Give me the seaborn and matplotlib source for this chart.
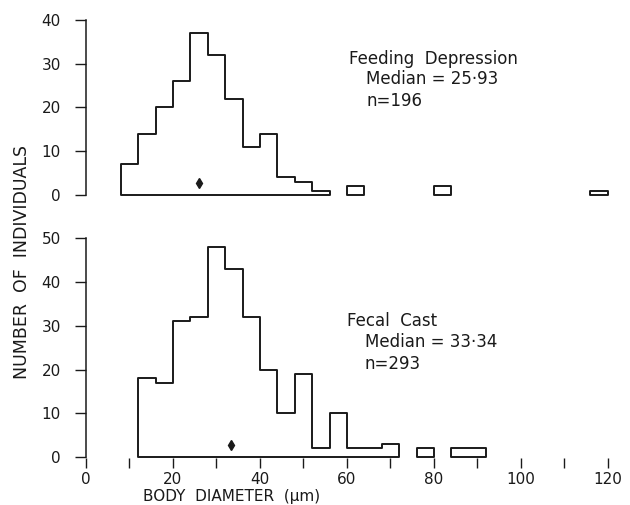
import numpy as np
import pandas as pd
import seaborn as sns
import matplotlib
matplotlib.use("Agg")
import matplotlib.pyplot as plt

# bin width of the size classes (um)
bin_width = 4

# feeding depressions
feeding_lefts = [8, 12, 16, 20, 24, 28, 32, 36, 40, 44, 48, 52, 60, 80, 116]
feeding_counts = [7, 14, 20, 26, 37, 32, 22, 11, 14, 4, 3, 1, 2, 2, 1]
feeding_median = 25.93
feeding_n = 196

# fecal casts
fecal_lefts = [12, 16, 20, 24, 28, 32, 36, 40, 44, 48, 52, 56, 60, 64, 68, 76, 84, 88]
fecal_counts = [18, 17, 31, 32, 48, 43, 32, 20, 10, 19, 2, 10, 2, 2, 3, 2, 2, 2]
fecal_median = 33.34
fecal_n = 293

x_major = [0, 20, 40, 60, 80, 100, 120]
x_minor = [10, 30, 50, 70, 90, 110]

LINE = "#1a1a1a"

sns.set_theme(style="white")
plt.rcParams["font.family"] = ["DejaVu Sans"]


def split_runs(lefts, counts, width):
    """group neighbouring non-empty bins so gaps stay open"""
    runs = []
    cur_l, cur_c = [lefts[0]], [counts[0]]
    for l, c in zip(lefts[1:], counts[1:]):
        if l == cur_l[-1] + width:
            cur_l.append(l)
            cur_c.append(c)
        else:
            runs.append((cur_l, cur_c))
            cur_l, cur_c = [l], [c]
    runs.append((cur_l, cur_c))
    return runs


def draw_hist(ax, lefts, counts, median, ymax):
    for run_l, run_c in split_runs(lefts, counts, bin_width):
        df = pd.DataFrame({"diam": np.array(run_l, dtype=float) + bin_width / 2,
                           "count": np.array(run_c, dtype=float)})
        sns.histplot(data=df, x="diam", weights="count", binwidth=bin_width,
                     binrange=(run_l[0], run_l[-1] + bin_width),
                     element="step", fill=True, facecolor="white",
                     edgecolor=LINE, alpha=1, linewidth=1.4, ax=ax)
    ax.plot([median], [2.8], marker="d", color=LINE, markersize=5.5,
            linestyle="none")
    ax.set_xlim(0, 124)
    ax.set_ylim(-0.3, ymax)
    ax.set_yticks(np.arange(0, ymax + 1, 10))
    ax.set_ylabel("")
    ax.set_xlabel("")
    for side in ("top", "right"):
        ax.spines[side].set_visible(False)
    ax.spines["left"].set_bounds(0, ymax)
    ax.spines["left"].set_color(LINE)
    ax.spines["left"].set_linewidth(1.1)
    ax.tick_params(axis="y", direction="out", length=8, width=1.0,
                   pad=10, labelsize=11, color=LINE, labelcolor=LINE, left=True)


fig = plt.figure(figsize=(6.3, 5.05), dpi=100)
ax_top = fig.add_axes([0.1365, 0.6113, 0.856, 0.3491])
ax_bot = fig.add_axes([0.1365, 0.0925, 0.856, 0.4356])

draw_hist(ax_top, feeding_lefts, feeding_counts, feeding_median, 40)
draw_hist(ax_bot, fecal_lefts, fecal_counts, fecal_median, 50)

ax_top.spines["bottom"].set_visible(False)
ax_top.set_xticks([])

ax_bot.spines["bottom"].set_visible(False)
ax_bot.set_xticks(x_major)
ax_bot.set_xticks(x_minor, minor=True)
ax_bot.tick_params(axis="x", which="both", direction="out", length=7,
                   width=1.0, pad=3, labelsize=11, color=LINE,
                   labelcolor=LINE, bottom=True)
ax_bot.set_xlabel("BODY  DIAMETER  (\u03bcm)", fontsize=11, color=LINE)
ax_bot.xaxis.set_label_coords(0.27, -0.138)

txt = dict(fontsize=12, va="center", ha="left", color=LINE)
ax_top.text(60.5, 31.1, "Feeding  Depression", **txt)
ax_top.text(64.4, 26.5, f"Median = {feeding_median:.2f}".replace(".", "\u00b7"), **txt)
ax_top.text(64.4, 21.5, f"n={feeding_n}", **txt)

ax_bot.text(59.9, 31.1, "Fecal  Cast", **txt)
ax_bot.text(64.1, 26.2, f"Median = {fecal_median:.2f}".replace(".", "\u00b7"), **txt)
ax_bot.text(64.1, 21.3, f"n={fecal_n}", **txt)

fig.text(0.035, 0.481, "NUMBER  OF  INDIVIDUALS", rotation=90, ha="center",
         va="center", fontsize=12.5, color=LINE)

fig.savefig("out.png", dpi=100)
